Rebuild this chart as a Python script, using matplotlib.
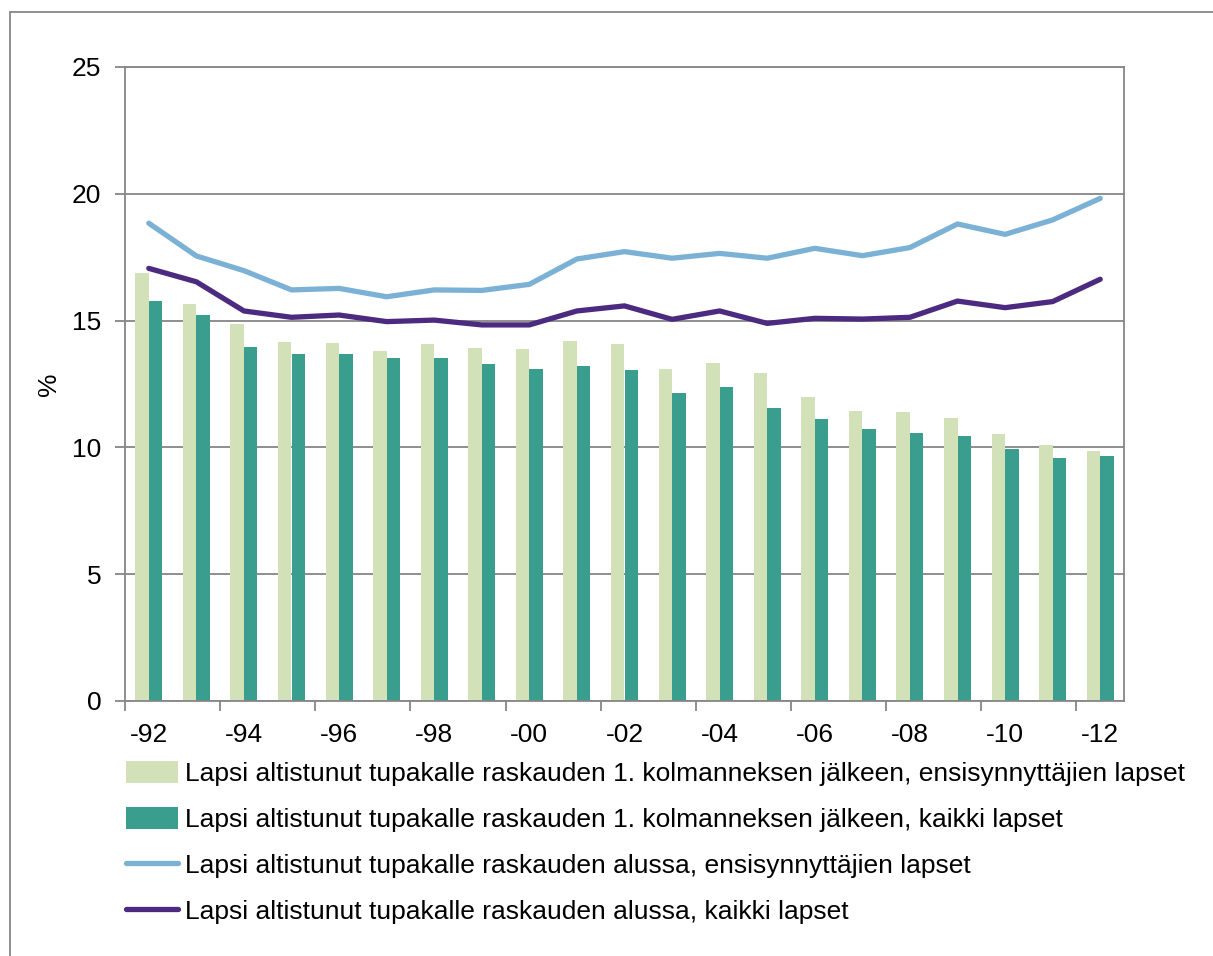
import matplotlib
matplotlib.use("Agg")
import matplotlib.pyplot as plt
import numpy as np
from matplotlib.patches import Rectangle

plt.rcParams['font.family'] = ['Liberation Sans', 'DejaVu Sans']

years = ['-92', '-93', '-94', '-95', '-96', '-97', '-98', '-99', '-00', '-01', '-02',
         '-03', '-04', '-05', '-06', '-07', '-08', '-09', '-10', '-11', '-12']

bars_first = [16.86, 15.64, 14.87, 14.17, 14.10, 13.80, 14.08, 13.91, 13.88, 14.18, 14.09,
              13.10, 13.34, 12.92, 12.00, 11.44, 11.38, 11.14, 10.52, 10.08, 9.86]
bars_all = [15.76, 15.21, 13.95, 13.68, 13.68, 13.53, 13.54, 13.29, 13.08, 13.21, 13.06,
            12.16, 12.37, 11.57, 11.11, 10.73, 10.56, 10.46, 9.95, 9.57, 9.65]
line_first = [18.84, 17.55, 16.97, 16.21, 16.27, 15.94, 16.21, 16.19, 16.43, 17.43, 17.72,
              17.46, 17.65, 17.46, 17.85, 17.56, 17.88, 18.81, 18.40, 18.97, 19.82]
line_all = [17.06, 16.53, 15.38, 15.13, 15.22, 14.96, 15.02, 14.83, 14.83, 15.38, 15.58,
            15.05, 15.38, 14.89, 15.09, 15.06, 15.13, 15.77, 15.51, 15.75, 16.63]

labels = [
    'Lapsi altistunut tupakalle raskauden 1. kolmanneksen jälkeen, ensisynnyttäjien lapset',
    'Lapsi altistunut tupakalle raskauden 1. kolmanneksen jälkeen, kaikki lapset',
    'Lapsi altistunut tupakalle raskauden alussa, ensisynnyttäjien lapset',
    'Lapsi altistunut tupakalle raskauden alussa, kaikki lapset',
]

c_light_bar = '#d3e1b8'
c_dark_bar = '#3a9e8f'
c_light_line = '#7bb1d4'
c_dark_line = '#4b2a7f'
grid_c = '#868686'
fs = 19

W, H = 1213, 956
fig = plt.figure(figsize=(W / 100, H / 100), dpi=100)
ax = fig.add_axes([125 / W, 1 - 701 / H, (1124 - 125) / W, (701 - 67) / H])

x = np.arange(len(years))
bw = 0.283
b1 = ax.bar(x - bw / 2, bars_first, width=bw, color=c_light_bar, label=labels[0], zorder=2)
b2 = ax.bar(x + bw / 2, bars_all, width=bw, color=c_dark_bar, label=labels[1], zorder=2)
l1, = ax.plot(x, line_first, color=c_light_line, lw=3.8, solid_capstyle='round', label=labels[2], zorder=3)
l2, = ax.plot(x, line_all, color=c_dark_line, lw=3.8, solid_capstyle='round', label=labels[3], zorder=3)

ax.set_xlim(-0.5, len(years) - 0.5)
ax.set_ylim(0, 25)
ax.set_yticks([0, 5, 10, 15, 20, 25])
ax.yaxis.grid(True, color=grid_c, lw=1.3, zorder=0)
ax.set_axisbelow(True)

ax.set_xticks(x[::2])
ax.set_xticklabels(years[::2])
ax.set_xticks(np.arange(-0.5, len(years) - 0.5, 2), minor=True)
ax.tick_params(axis='x', which='major', length=0, pad=16, labelsize=fs)
ax.tick_params(axis='x', which='minor', length=7, width=1.3, color=grid_c)
ax.tick_params(axis='y', length=7, width=1.3, color=grid_c, labelsize=fs, pad=10)

for s in ax.spines.values():
    s.set_color(grid_c)
    s.set_linewidth(1.3)

ax.set_ylabel('%', fontsize=fs, labelpad=8)

leg = fig.legend([b1, b2, l1, l2], labels, loc='upper left',
                 bbox_to_anchor=(126 / W, 1 - 761 / H), frameon=False,
                 fontsize=fs, handlelength=1.97, handleheight=0.9, handletextpad=0.25,
                 labelspacing=0.79, borderpad=0, borderaxespad=0)

fig.patches.append(Rectangle((10 / W, -0.1), 1.2, (H - 12) / H + 0.1, transform=fig.transFigure,
                             fill=False, edgecolor=grid_c, lw=1.3))

fig.savefig('out.png', dpi=100)
